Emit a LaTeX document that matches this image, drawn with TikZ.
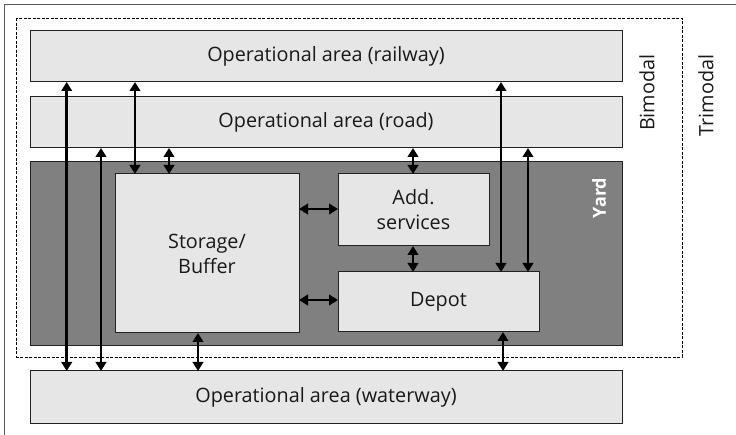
\documentclass[tikz,border=0pt]{standalone}
\usepackage{fontspec}
\setmainfont{Open Sans}
\usetikzlibrary{arrows.meta}
\definecolor{boxfill}{HTML}{E6E6E6}
\definecolor{yardfill}{HTML}{808080}
\definecolor{edge}{HTML}{222222}
\begin{document}
\begin{tikzpicture}[x=1pt,y=-1pt,
  area/.style={draw=edge,line width=1pt,fill=boxfill,inner sep=0pt,outer sep=0pt},
  conn/.style={line width=2.6pt,{Triangle[length=9pt,width=10.5pt]}-{Triangle[length=9pt,width=10.5pt]}},
  lbl/.style={font=\fontsize{19.8}{25}\selectfont,text=black!90,align=center}]
\useasboundingbox (0,0) rectangle (736,435);
\fill[white] (0,0) rectangle (736,435);
\draw[line width=1.2pt,draw=black!65] (4.5,440) -- (4.5,4.5) -- (740,4.5);
\draw[line width=0.8pt,dash pattern=on 3pt off 1.5pt] (16.7,18.3) rectangle (682,357);
% boxes
\path[area] (30,31) rectangle (622,82);
\node[lbl] (rail) at (326,56.5) {Operational area (railway)};
\path[area] (30,97) rectangle (622,148);
\node[lbl] (road) at (326,122.5) {Operational area (road)};
\path[area,fill=yardfill] (30,162) rectangle (622,346);
\node[font=\fontsize{18}{20}\selectfont\bfseries,text=white,rotate=90] (yard) at (599,198) {Yard};
\node[area,minimum width=184pt,minimum height=159pt,lbl] (stor) at (207,253.5) {Storage/\\Buffer};
\node[area,minimum width=151pt,minimum height=72pt,lbl] (add) at (413.5,210) {Add.\\services};
\node[area,minimum width=201pt,minimum height=60pt,lbl] (depot) at (438.5,302) {Depot};
\path[area] (30,371) rectangle (622,423);
\node[lbl] (water) at (326,397) {Operational area (waterway)};
\node[lbl,rotate=90,anchor=east] (bim) at (647,51) {Bimodal};
\node[lbl,rotate=90,anchor=east] (trim) at (706,51) {Trimodal};
% connectors
\coordinate (r1) at (66.7,82); \coordinate (w1) at (66.7,371);
\coordinate (r2) at (135,82); \coordinate (s2) at (135,174);
\coordinate (d1) at (101,148); \coordinate (w2) at (101,371);
\coordinate (d2) at (169,148); \coordinate (s3) at (169,174);
\coordinate (d3) at (413,148); \coordinate (a3) at (413,174);
\coordinate (r4) at (501,82); \coordinate (p4) at (501,272);
\coordinate (d5) at (528,148); \coordinate (p5) at (528,272);
\coordinate (sa1) at (299,209); \coordinate (sa2) at (338,209);
\coordinate (sd1) at (299,300); \coordinate (sd2) at (338,300);
\coordinate (ad1) at (413,246); \coordinate (ad2) at (413,272);
\coordinate (sw1) at (198,333); \coordinate (sw2) at (198,371);
\coordinate (dw1) at (503,332); \coordinate (dw2) at (503,371);
\draw[conn] (r1) -- (w1);
\draw[conn] (r2) -- (s2);
\draw[conn] (d1) -- (w2);
\draw[conn] (d2) -- (s3);
\draw[conn] (d3) -- (a3);
\draw[conn] (r4) -- (p4);
\draw[conn] (d5) -- (p5);
\draw[conn] (sa1) -- (sa2);
\draw[conn] (sd1) -- (sd2);
\draw[conn] (ad1) -- (ad2);
\draw[conn] (sw1) -- (sw2);
\draw[conn] (dw1) -- (dw2);
\end{tikzpicture}
\end{document}
